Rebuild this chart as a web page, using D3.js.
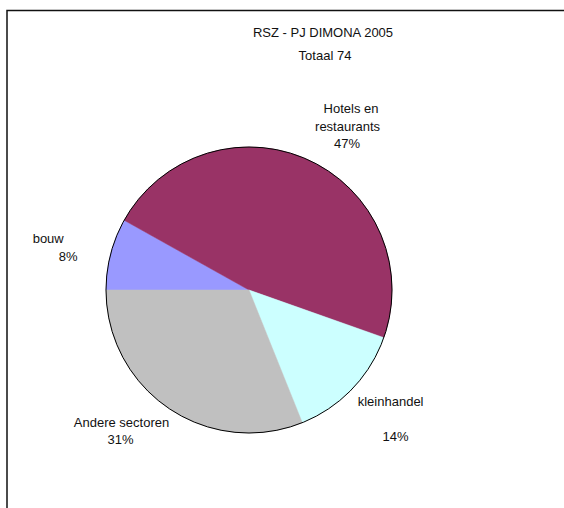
<!DOCTYPE html>
<html>
<head>
<meta charset="utf-8">
<script src="https://cdn.jsdelivr.net/npm/d3@7"></script>
<style>
html,body{margin:0;padding:0;background:#fff;}
svg{display:block;}
text{font-family:"Liberation Sans",Arial,sans-serif;font-size:13px;fill:#111;}
</style>
</head>
<body>
<svg id="chart" width="564" height="508"></svg>
<script>
const title = "RSZ - PJ DIMONA 2005";
const subtitle = "Totaal 74";
const categories = ["bouw", "Hotels en restaurants", "kleinhandel", "Andere sectoren"];
const values = [6, 35, 10, 23];
const colors = ["#9999FF", "#993366", "#CCFFFF", "#C0C0C0"];
// label text lines (category split as in the picture)
const labelLines = [["bouw"], ["Hotels en", "restaurants"], ["kleinhandel", ""], ["Andere sectoren"]];

const W = 564, H = 508;
const cx = 249, cy = 290, R = 143;
const svg = d3.select("#chart");

// frame (extends past the right and bottom edges)
svg.append("rect").attr("x", 7).attr("y", 10.5).attr("width", 600).attr("height", 560)
  .attr("fill", "none").attr("stroke", "#111").attr("stroke-width", 1.5);

svg.append("text").attr("x", 323).attr("y", 32).attr("text-anchor", "middle")
  .attr("dominant-baseline", "central").text(title);
svg.append("text").attr("x", 325).attr("y", 55).attr("text-anchor", "middle")
  .attr("dominant-baseline", "central").text(subtitle);

const total = d3.sum(values);
const data = categories.map((c, i) => ({cat: c, value: values[i], color: colors[i], lines: labelLines[i]}));

const pie = d3.pie().value(d => d.value).sort(null)
  .startAngle(-Math.PI / 2).endAngle(3 * Math.PI / 2);
const arcs = pie(data);
const arc = d3.arc().innerRadius(0).outerRadius(R);
const labelArc = d3.arc().innerRadius(192).outerRadius(192);

const g = svg.append("g").attr("transform", `translate(${cx},${cy})`);
g.selectAll("path.slice").data(arcs).enter().append("path")
  .attr("class", "slice").attr("d", arc).attr("fill", d => d.data.color)
  .attr("stroke", d => d.data.color).attr("stroke-width", 0.5);
g.append("circle").attr("r", R).attr("fill", "none").attr("stroke", "#000").attr("stroke-width", 1);

// label nudges relative to the label arc centroid, and per-line x shifts
const nudges = [[-7, 6], [20, 11], [5, -4], [-21, -18]];
const lineDx = [[-8, 12], [3, -0.5, -1], [-2, 0, 3], [1, 0]];
const lineH = 17.5;

arcs.forEach((a, i) => {
  const [x0, y0] = labelArc.centroid(a);
  const pct = Math.round(a.data.value / total * 100) + "%";
  const lines = a.data.lines.concat([pct]);
  const n = lines.length;
  const t = g.append("text").attr("text-anchor", "middle");
  lines.forEach((ln, j) => {
    t.append("tspan")
      .attr("x", x0 + nudges[i][0] + (lineDx[i][j] || 0))
      .attr("y", y0 + nudges[i][1] + (j - (n - 1) / 2) * lineH)
      .attr("dominant-baseline", "central")
      .text(ln);
  });
});
</script>
</body>
</html>
